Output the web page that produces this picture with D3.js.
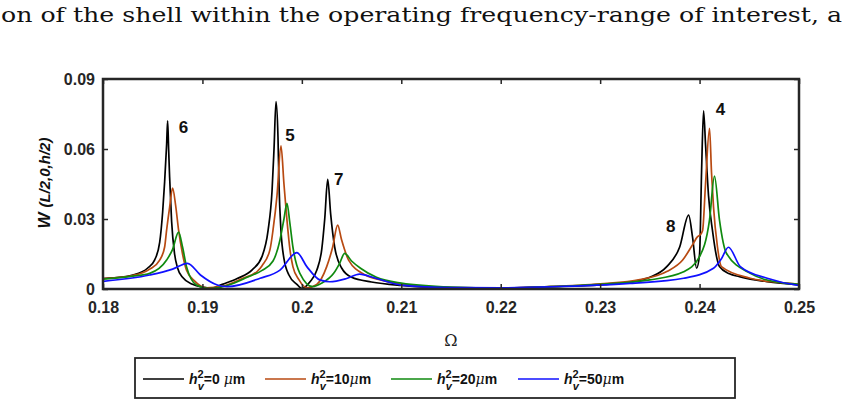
<!DOCTYPE html>
<html>
<head>
<meta charset="utf-8">
<script src="https://cdn.jsdelivr.net/npm/d3@7"></script>
<style>
body{margin:0;background:#fff;}
svg text{font-family:"Liberation Sans",Arial,sans-serif;}
</style>
</head>
<body>
<div id="chart"></div>
<script>
// values (Omega, W)
var omegaH0 = [0.1800,0.1810,0.1830,0.1845,0.1852,0.1857,0.1860,0.1862,0.1864,0.1865,0.1866,0.1867,0.1869,0.1872,0.1875,0.1880,0.1890,0.1900,0.1910,0.1920,0.1935,0.1950,0.1960,0.1966,0.1970,0.1972,0.1974,0.1976,0.1977,0.1979,0.1982,0.1987,0.1995,0.2000,0.2008,0.2015,0.2020,0.2023,0.2026,0.2029,0.2033,0.2040,0.2050,0.2070,0.2100,0.2150,0.2200,0.2250,0.2300,0.2330,0.2350,0.2367,0.2380,0.2389,0.2393,0.2397,0.2400,0.2402,0.2404,0.2406,0.2409,0.2413,0.2417,0.2420,0.2430,0.2440,0.2468,0.2500]
var wH0 = [0.0045,0.0048,0.0060,0.0090,0.0125,0.0200,0.0330,0.0460,0.0620,0.0721,0.0600,0.0480,0.0290,0.0150,0.0090,0.0050,0.0020,0.0008,0.0004,0.0020,0.0045,0.0082,0.0140,0.0250,0.0420,0.0600,0.0803,0.0650,0.0450,0.0250,0.0130,0.0060,0.0020,0.0002,0.0030,0.0080,0.0170,0.0300,0.0470,0.0320,0.0180,0.0090,0.0050,0.0030,0.0015,0.0005,0.0004,0.0010,0.0018,0.0030,0.0050,0.0096,0.0180,0.0317,0.0220,0.0089,0.0150,0.0500,0.0764,0.0620,0.0400,0.0250,0.0140,0.0096,0.0065,0.0053,0.0031,0.0018]

var omegaH10 = [0.1800,0.1830,0.1847,0.1857,0.1862,0.1864,0.1867,0.1870,0.1873,0.1876,0.1880,0.1884,0.1892,0.1904,0.1920,0.1940,0.1955,0.1960,0.1968,0.1971,0.1975,0.1979,0.1982,0.1985,0.1988,0.1991,0.1997,0.2005,0.2015,0.2025,0.2031,0.2036,0.2040,0.2047,0.2064,0.2080,0.2100,0.2150,0.2200,0.2250,0.2300,0.2340,0.2367,0.2383,0.2393,0.2398,0.2400,0.2403,0.2406,0.2410,0.2412,0.2414,0.2418,0.2422,0.2450,0.2480,0.2500]
var wH10 = [0.0045,0.0058,0.0085,0.0124,0.0180,0.0253,0.0350,0.0432,0.0360,0.0253,0.0150,0.0081,0.0035,0.0005,0.0012,0.0045,0.0075,0.0100,0.0170,0.0253,0.0400,0.0613,0.0450,0.0296,0.0170,0.0096,0.0040,0.0005,0.0020,0.0096,0.0180,0.0274,0.0210,0.0124,0.0060,0.0038,0.0020,0.0006,0.0004,0.0010,0.0022,0.0040,0.0075,0.0124,0.0190,0.0224,0.0230,0.0250,0.0450,0.0689,0.0500,0.0353,0.0180,0.0096,0.0047,0.0028,0.0020]

var omegaH20 = [0.1800,0.1830,0.1847,0.1864,0.1870,0.1876,0.1880,0.1884,0.1894,0.1907,0.1925,0.1945,0.1960,0.1971,0.1978,0.1982,0.1985,0.1988,0.1991,0.1998,0.2011,0.2020,0.2032,0.2038,0.2043,0.2050,0.2059,0.2075,0.2100,0.2150,0.2200,0.2250,0.2300,0.2350,0.2384,0.2400,0.2410,0.2415,0.2420,0.2427,0.2451,0.2484,0.2500]
var wH20 = [0.0042,0.0055,0.0067,0.0124,0.0170,0.0244,0.0180,0.0096,0.0017,0.0002,0.0015,0.0050,0.0080,0.0120,0.0210,0.0300,0.0367,0.0280,0.0180,0.0067,0.0010,0.0025,0.0067,0.0110,0.0153,0.0120,0.0089,0.0050,0.0025,0.0008,0.0004,0.0010,0.0020,0.0039,0.0074,0.0139,0.0296,0.0484,0.0296,0.0153,0.0067,0.0026,0.0020]

var omegaH50 = [0.1800,0.1847,0.1870,0.1885,0.1898,0.1915,0.1925,0.1958,0.1978,0.1995,0.2005,0.2018,0.2028,0.2045,0.2058,0.2075,0.2100,0.2150,0.2200,0.2250,0.2330,0.2384,0.2414,0.2422,0.2429,0.2441,0.2468,0.2498,0.2500]
var wH50 = [0.0033,0.0060,0.0085,0.0110,0.0060,0.0017,0.0010,0.0046,0.0081,0.0156,0.0096,0.0039,0.0031,0.0045,0.0064,0.0045,0.0017,0.0006,0.0005,0.0009,0.0024,0.0046,0.0089,0.0130,0.0179,0.0096,0.0046,0.0017,0.0016]

var seriesNames = ["h0","h10","h20","h50"]
var seriesColors = ["#000000","#b84a12","#0f8a0f","#1010ff"]
var legendValues = ["0 ","10","20","50"]

var xTicks = [0.18,0.19,0.2,0.21,0.22,0.23,0.24,0.25]
var xTickLabels = ["0.18","0.19","0.2","0.21","0.22","0.23","0.24","0.25"]
var yTicks = [0,0.03,0.06,0.09]
var yTickLabels = ["0","0.03","0.06","0.09"]

// mode numbers next to the peaks
var peakLabels = ["6","5","7","8","4"]
var peakOmega = [0.1881,0.1988,0.2037,0.2371,0.2421]
var peakW = [0.0694,0.0660,0.0471,0.0270,0.0771]

var allSeries = [
	{omega: omegaH0, w: wH0},
	{omega: omegaH10, w: wH10},
	{omega: omegaH20, w: wH20},
	{omega: omegaH50, w: wH50}
]

var width = 855, height = 403
var margin = {top: 79, right: 56, bottom: 114, left: 103}
var plotW = width - margin.left - margin.right,
    plotH = height - margin.top - margin.bottom

var svg = d3.select("#chart").append("svg")
	.attr("width", width)
	.attr("height", height)

// running text of the page above the figure
svg.append("text")
	.attr("x", 1)
	.attr("y", 22)
	.attr("textLength", 841)
	.attr("lengthAdjust", "spacingAndGlyphs")
	.style("font-family", "'DejaVu Serif', serif")
	.style("font-size", "20px")
	.attr("fill", "#111")
	.text("on of the shell within the operating frequency-range of interest, a")

var x = d3.scaleLinear().domain([0.18, 0.25]).range([0, plotW])
var y = d3.scaleLinear().domain([0, 0.09]).range([plotH, 0])

var g = svg.append("g")
	.attr("transform", "translate(" + margin.left + "," + margin.top + ")")

g.append("clipPath").attr("id", "clip")
	.append("rect").attr("width", plotW).attr("height", plotH)

var line = d3.line()
	.curve(d3.curveMonotoneX)
	.x(function(d){ return x(d[0]) })
	.y(function(d){ return y(d[1]) })

g.append("g").attr("clip-path", "url(#clip)")
	.selectAll("path")
	.data(allSeries)
	.enter().append("path")
	.attr("d", function(s){ return line(s.omega.map(function(o, i){ return [o, s.w[i]] })) })
	.attr("fill", "none")
	.attr("stroke", function(s, i){ return seriesColors[i] })
	.attr("stroke-width", 1.7)
	.attr("stroke-linejoin", "round")

// axes, ticks pointing inward
var axisColor = "#262626"
function styleAxis(sel){
	sel.select(".domain").remove()
	sel.selectAll("line").attr("stroke", axisColor).attr("stroke-width", 1.5)
	sel.selectAll("text")
		.attr("fill", axisColor)
		.style("font-size", "16px")
		.style("font-weight", "bold")
}

g.append("g")
	.attr("transform", "translate(0," + plotH + ")")
	.call(d3.axisBottom(x).tickValues(xTicks).tickSize(-5).tickPadding(13)
		.tickFormat(function(d, i){ return xTickLabels[i] }))
	.call(styleAxis)

g.append("g")
	.call(d3.axisTop(x).tickValues(xTicks).tickSize(-5).tickFormat(""))
	.call(styleAxis)

g.append("g")
	.call(d3.axisLeft(y).tickValues(yTicks).tickSize(-5).tickPadding(8)
		.tickFormat(function(d, i){ return yTickLabels[i] }))
	.call(styleAxis)

g.append("g")
	.attr("transform", "translate(" + plotW + ",0)")
	.call(d3.axisRight(y).tickValues(yTicks).tickSize(-5).tickFormat(""))
	.call(styleAxis)

g.append("rect")
	.attr("width", plotW)
	.attr("height", plotH)
	.attr("fill", "none")
	.attr("stroke", axisColor)
	.attr("stroke-width", 2.5)

// peak labels
g.selectAll(".peak")
	.data(peakLabels)
	.enter().append("text")
	.attr("class", "peak")
	.attr("x", function(d, i){ return x(peakOmega[i]) })
	.attr("y", function(d, i){ return y(peakW[i]) })
	.attr("dy", "0.35em")
	.attr("text-anchor", "middle")
	.style("font-size", "17px")
	.style("font-weight", "bold")
	.attr("fill", "#111")
	.text(function(d){ return d })

// axis titles
svg.append("text")
	.attr("x", margin.left + x(0.215))
	.attr("y", 346)
	.attr("text-anchor", "middle")
	.style("font-family", "'DejaVu Serif', serif")
	.style("font-size", "16px")
	.attr("fill", "#222")
	.text("Ω")

var yTitle = svg.append("text")
	.attr("transform", "translate(50," + (margin.top + plotH / 2 - 1) + ") rotate(-90)")
	.attr("text-anchor", "middle")
	.style("font-size", "15px")
	.style("font-weight", "bold")
	.attr("fill", "#111")
yTitle.append("tspan").style("font-style", "italic").style("font-size", "17px").text("W ")
yTitle.append("tspan").style("font-style", "italic").text("(L/2,0,h/2)")

// legend
var legend = svg.append("g")
legend.append("rect")
	.attr("x", 135).attr("y", 358)
	.attr("width", 600).attr("height", 40)
	.attr("fill", "#fff")
	.attr("stroke", axisColor)
	.attr("stroke-width", 1.8)

var legendX = [143, 265, 391, 518]
seriesNames.forEach(function(name, i){
	var lx = legendX[i], ly = 379
	legend.append("line")
		.attr("x1", lx).attr("x2", lx + 41)
		.attr("y1", ly).attr("y2", ly)
		.attr("stroke", seriesColors[i])
		.attr("stroke-width", 1.6)
	var t = legend.append("text")
		.attr("x", lx + 46).attr("y", ly + 5)
		.style("font-size", "14px")
		.style("font-weight", "bold")
		.attr("fill", "#111")
	t.append("tspan").style("font-style", "italic").text("h")
	t.append("tspan").attr("dy", -6).style("font-size", "11px").text("2")
	t.append("tspan").attr("dx", -6).attr("dy", 12).style("font-size", "11px").style("font-style", "italic").text("v")
	t.append("tspan").attr("dy", -6).text("=" + legendValues[i])
	t.append("tspan").style("font-style", "italic").style("font-weight", "normal").style("font-family", "'DejaVu Serif', serif").text("μ")
	t.append("tspan").text("m")
})
</script>
</body>
</html>
